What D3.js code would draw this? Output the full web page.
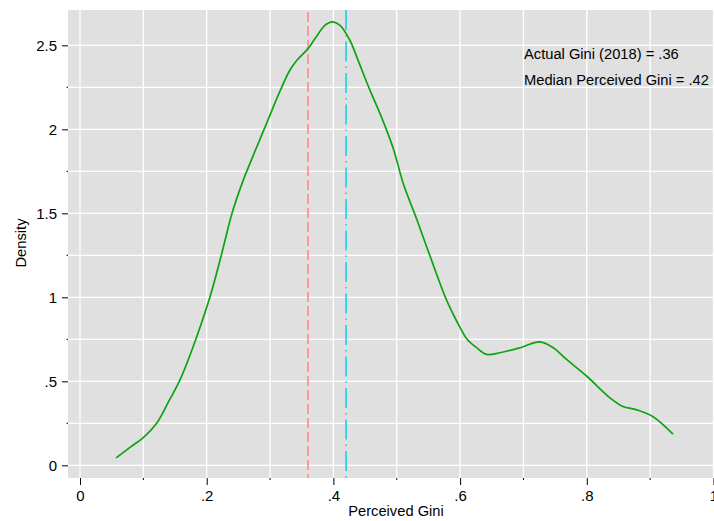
<!DOCTYPE html>
<html>
<head>
<meta charset="utf-8">
<script src="https://cdn.jsdelivr.net/npm/d3@7"></script>
<style>
	body { margin: 0; background: #fff; }
	text { font-family: "Liberation Sans", Arial, Helvetica, sans-serif; fill: #000; }
</style>
</head>
<body>
<div id="chart"></div>
<script>
// our data
const gini = [0.057, 0.08, 0.10, 0.121, 0.14, 0.158, 0.178, 0.205, 0.221, 0.229, 0.24, 0.257, 0.273, 0.295,
	0.316, 0.331, 0.342, 0.36, 0.371, 0.387, 0.398, 0.41, 0.426, 0.439, 0.458, 0.474, 0.495, 0.51, 0.532,
	0.555, 0.579, 0.60, 0.611, 0.626, 0.642, 0.663, 0.695, 0.726, 0.747, 0.768, 0.80, 0.837, 0.857, 0.879,
	0.904, 0.936]
const density = [0.044, 0.11, 0.165, 0.25, 0.38, 0.51, 0.70, 1.00, 1.22, 1.34, 1.50, 1.69, 1.84, 2.04,
	2.23, 2.35, 2.41, 2.48, 2.54, 2.62, 2.64, 2.62, 2.53, 2.41, 2.23, 2.09, 1.88, 1.68, 1.46,
	1.22, 0.98, 0.82, 0.75, 0.70, 0.66, 0.67, 0.70, 0.735, 0.70, 0.63, 0.53, 0.40, 0.35, 0.33,
	0.29, 0.186]

const xTicks = [0, 0.2, 0.4, 0.6, 0.8, 1]
const xTickLabels = ['0', '.2', '.4', '.6', '.8', '1']
const xMinor = [0.1, 0.3, 0.5, 0.7, 0.9]
const yTicks = [0, 0.5, 1, 1.5, 2, 2.5]
const yTickLabels = ['0', '.5', '1', '1.5', '2', '2.5']
const yMinor = [0.25, 0.75, 1.25, 1.75, 2.25]

const actualGini = 0.36
const medianGini = 0.42
const notes = ['Actual Gini (2018) = .36', 'Median Perceived Gini = .42']

const width = 714
const height = 521
const plot = {left: 68, top: 10, right: 714, bottom: 478}
const fontSize = 15

const x = d3.scaleLinear().domain([0, 1]).range([80, 713.5])
const y = d3.scaleLinear().domain([0, 2.5]).range([465.3, 45.3])

const $svg = d3.select('#chart')
	.append('svg')
	.attr('width', width)
	.attr('height', height)

// grey plot region
$svg.append('rect')
	.attr('x', plot.left)
	.attr('y', plot.top)
	.attr('width', plot.right - plot.left)
	.attr('height', plot.bottom - plot.top)
	.attr('fill', '#e0e0e0')

// white grid
const $grid = $svg.append('g')
	.attr('stroke', '#fff')
	.attr('stroke-width', 1.3)

$grid.selectAll('.vgrid')
	.data(xTicks.concat(xMinor))
	.join('line')
		.attr('x1', d => x(d)).attr('x2', d => x(d))
		.attr('y1', plot.top).attr('y2', plot.bottom)

$grid.selectAll('.hgrid')
	.data(yTicks.concat(yMinor))
	.join('line')
		.attr('x1', plot.left).attr('x2', plot.right)
		.attr('y1', d => y(d)).attr('y2', d => y(d))

// x axis
const xAxis = d3.axisBottom(x)
	.tickValues(xTicks)
	.tickFormat((d, i) => xTickLabels[i])
	.tickSize(7)
	.tickPadding(5)

const $xAxis = $svg.append('g')
	.attr('transform', `translate(0, ${plot.bottom})`)
	.call(xAxis)
$xAxis.select('.domain').remove()
$xAxis.selectAll('text').attr('font-size', fontSize).attr('font-family', '"Liberation Sans", Arial, sans-serif')
$xAxis.selectAll('line').attr('stroke', '#000')

$svg.append('g')
	.selectAll('line')
	.data(xMinor)
	.join('line')
		.attr('x1', d => x(d)).attr('x2', d => x(d))
		.attr('y1', plot.bottom).attr('y2', plot.bottom + 2)
		.attr('stroke', '#000')

// y axis
const yAxis = d3.axisLeft(y)
	.tickValues(yTicks)
	.tickFormat((d, i) => yTickLabels[i])
	.tickSize(6)
	.tickPadding(5)

const $yAxis = $svg.append('g')
	.attr('transform', `translate(${plot.left}, 0)`)
	.call(yAxis)
$yAxis.select('.domain').remove()
$yAxis.selectAll('text').attr('font-size', fontSize).attr('font-family', '"Liberation Sans", Arial, sans-serif')
$yAxis.selectAll('line').attr('stroke', '#000')

$svg.append('g')
	.selectAll('line')
	.data(yMinor)
	.join('line')
		.attr('x1', plot.left - 1.5).attr('x2', plot.left)
		.attr('y1', d => y(d)).attr('y2', d => y(d))
		.attr('stroke', '#000')

// reference lines
$svg.append('line')
	.attr('x1', x(actualGini)).attr('x2', x(actualGini))
	.attr('y1', plot.top + 2).attr('y2', plot.bottom)
	.attr('stroke', '#ff8c8c')
	.attr('stroke-width', 1.6)
	.attr('stroke-dasharray', '10,4')

$svg.append('line')
	.attr('x1', x(medianGini)).attr('x2', x(medianGini))
	.attr('y1', plot.top).attr('y2', plot.bottom)
	.attr('stroke', '#1ccfe0')
	.attr('stroke-width', 1.6)
	.attr('stroke-dasharray', '20,5,1.5,5')

// density curve
const line = d3.line()
	.x((d, i) => x(gini[i]))
	.y(d => y(d))
	.curve(d3.curveCatmullRom.alpha(0.5))

$svg.append('path')
	.datum(density)
	.attr('d', line)
	.attr('fill', 'none')
	.attr('stroke', '#0fa30f')
	.attr('stroke-width', 1.7)

// notes
$svg.append('g')
	.selectAll('text')
	.data(notes)
	.join('text')
		.attr('x', 524)
		.attr('y', (d, i) => 59 + i * 25.5)
		.attr('font-size', fontSize - 0.3)
		.text(d => d)

// axis titles
$svg.append('text')
	.attr('x', 396)
	.attr('y', 516)
	.attr('text-anchor', 'middle')
	.attr('font-size', fontSize - 0.3)
	.text('Perceived Gini')

$svg.append('text')
	.attr('transform', 'translate(26, 243) rotate(-90)')
	.attr('text-anchor', 'middle')
	.attr('font-size', fontSize - 0.3)
	.text('Density')
</script>
</body>
</html>
